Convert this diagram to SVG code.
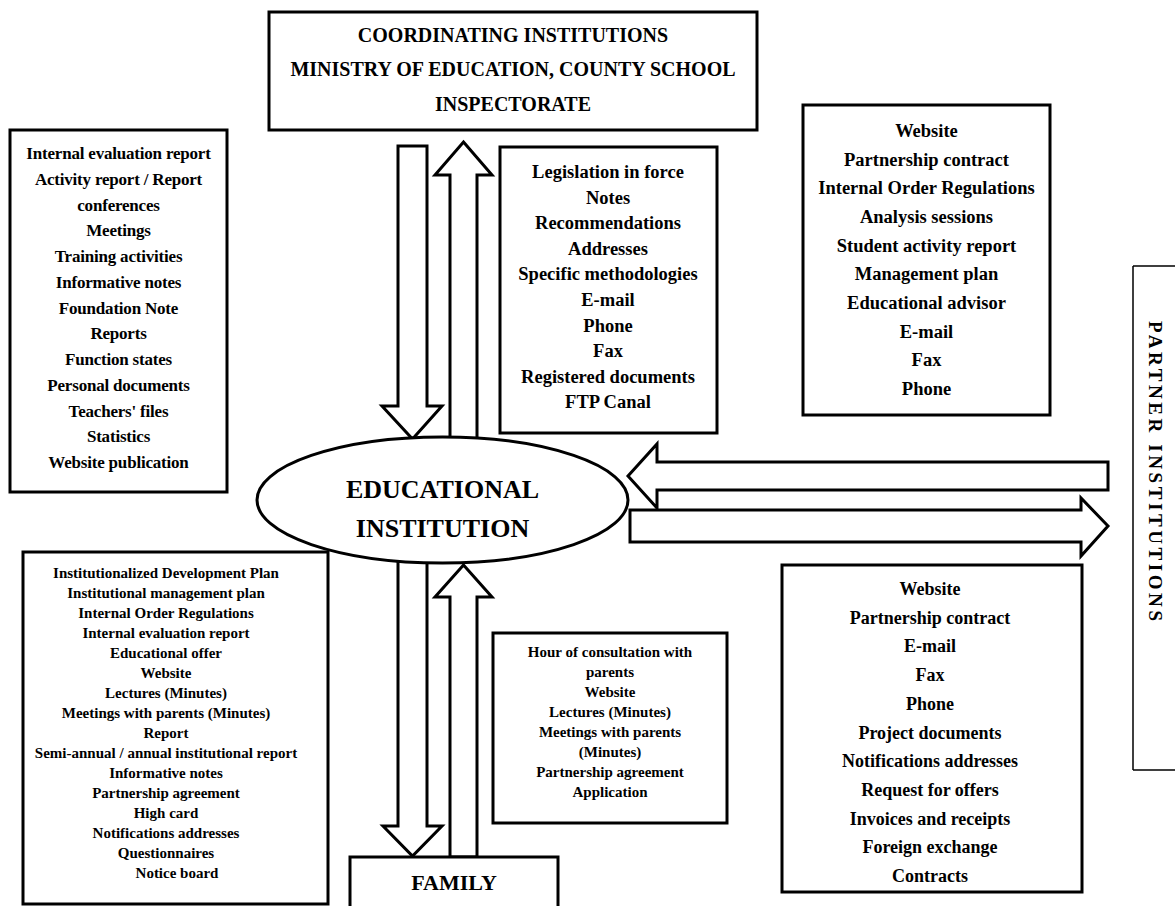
<svg xmlns="http://www.w3.org/2000/svg" width="1175" height="906" viewBox="0 0 1175 906" font-family="'Liberation Serif', 'Times New Roman', serif">
<style>
.box{fill:#fff;stroke:#000;stroke-width:3}
.arr{fill:#fff;stroke:#000;stroke-width:3;stroke-linejoin:miter}
text{font-family:'Liberation Serif','Times New Roman',serif;font-weight:bold;fill:#000;text-anchor:middle}
.t20{font-size:20px}
.t185{font-size:18.5px}
.t18{font-size:18px}
.t17{font-size:17px;letter-spacing:-0.2px}
.t15{font-size:15px}
.big{font-size:26px}
</style>
<rect width="1175" height="906" fill="#fff"/>
<g id="connectors">
<polygon class="arr" points="398,146 427,146 427,406 442,406 412.5,439 382,406 398,406"/>
<polygon class="arr" points="463.5,142 492,175 477,175 477,442 450,442 450,175 435,175"/>
<polygon class="arr" points="398,560 427,560 427,826 442,826 412.5,856 383,826 398,826"/>
<polygon class="arr" points="463.5,565 492,597 477,597 477,857 450,857 450,597 435,597"/>
<polygon class="arr" points="628,476 657,444 657,462 1108,462 1108,490 657,490 657,508"/>
<polygon class="arr" points="630,510 1081,510 1081,498 1108,526 1081,556 1081,542 630,542"/>
</g>
<g id="coordinating">
<rect class="box" x="269" y="12" width="488" height="118"/>
<text class="t20" x="513" y="42">COORDINATING INSTITUTIONS</text>
<text class="t20" x="513" y="76">MINISTRY OF EDUCATION, COUNTY SCHOOL</text>
<text class="t20" x="513" y="111">INSPECTORATE</text>
</g>
<g id="left-list">
<rect class="box" x="10" y="130" width="217" height="362"/>
<text class="t17" x="118.5" y="159">Internal evaluation report</text>
<text class="t17" x="118.5" y="184.75">Activity report / Report</text>
<text class="t17" x="118.5" y="210.5">conferences</text>
<text class="t17" x="118.5" y="236.25">Meetings</text>
<text class="t17" x="118.5" y="262">Training activities</text>
<text class="t17" x="118.5" y="287.75">Informative notes</text>
<text class="t17" x="118.5" y="313.5">Foundation Note</text>
<text class="t17" x="118.5" y="339.25">Reports</text>
<text class="t17" x="118.5" y="365">Function states</text>
<text class="t17" x="118.5" y="390.75">Personal documents</text>
<text class="t17" x="118.5" y="416.5">Teachers' files</text>
<text class="t17" x="118.5" y="442.25">Statistics</text>
<text class="t17" x="118.5" y="468">Website publication</text>
</g>
<g id="coord-channels">
<rect class="box" x="500" y="147" width="217" height="286"/>
<text class="t185" x="608" y="178">Legislation in force</text>
<text class="t185" x="608" y="203.6">Notes</text>
<text class="t185" x="608" y="229.2">Recommendations</text>
<text class="t185" x="608" y="254.8">Addresses</text>
<text class="t185" x="608" y="280.4">Specific methodologies</text>
<text class="t185" x="608" y="306">E-mail</text>
<text class="t185" x="608" y="331.6">Phone</text>
<text class="t185" x="608" y="357.2">Fax</text>
<text class="t185" x="608" y="382.8">Registered documents</text>
<text class="t185" x="608" y="408.4">FTP Canal</text>
</g>
<g id="partner-top-list">
<rect class="box" x="803" y="105" width="247" height="310"/>
<text class="t185" x="926.5" y="137">Website</text>
<text class="t185" x="926.5" y="165.7">Partnership contract</text>
<text class="t185" x="926.5" y="194.3">Internal Order Regulations</text>
<text class="t185" x="926.5" y="223">Analysis sessions</text>
<text class="t185" x="926.5" y="251.6">Student activity report</text>
<text class="t185" x="926.5" y="280.3">Management plan</text>
<text class="t185" x="926.5" y="309">Educational advisor</text>
<text class="t185" x="926.5" y="337.6">E-mail</text>
<text class="t185" x="926.5" y="366.2">Fax</text>
<text class="t185" x="926.5" y="395">Phone</text>
</g>
<g id="educational-institution">
<ellipse class="box" cx="442.5" cy="500" rx="185.5" ry="63"/>
<text class="big" x="442.5" y="498">EDUCATIONAL</text>
<text class="big" x="442.5" y="537">INSTITUTION</text>
</g>
<g id="partner-institutions">
<path d="M1133,266 H1175 M1133,266 V770 M1133,770 H1175" fill="none" stroke="#000" stroke-width="1.5"/>
<text transform="translate(1149,471) rotate(90)" x="0" y="0" style="font-size:19px" textLength="300" lengthAdjust="spacing">PARTNER INSTITUTIONS</text>
</g>
<g id="family-list">
<rect class="box" x="23" y="552" width="305" height="352"/>
<text class="t15" x="166" y="578">Institutionalized Development Plan</text>
<text class="t15" x="166" y="598">Institutional management plan</text>
<text class="t15" x="166" y="618">Internal Order Regulations</text>
<text class="t15" x="166" y="638">Internal evaluation report</text>
<text class="t15" x="166" y="658">Educational offer</text>
<text class="t15" x="166" y="678">Website</text>
<text class="t15" x="166" y="698">Lectures (Minutes)</text>
<text class="t15" x="166" y="718">Meetings with parents (Minutes)</text>
<text class="t15" x="166" y="738">Report</text>
<text class="t15" x="166" y="758">Semi-annual / annual institutional report</text>
<text class="t15" x="166" y="778">Informative notes</text>
<text class="t15" x="166" y="798">Partnership agreement</text>
<text class="t15" x="166" y="818">High card</text>
<text class="t15" x="166" y="838">Notifications addresses</text>
<text class="t15" x="166" y="858">Questionnaires</text>
<text class="t15" x="177" y="878">Notice board</text>
</g>
<g id="family-channels">
<rect class="box" x="493" y="633" width="234" height="190"/>
<text class="t15" x="610" y="657">Hour of consultation with</text>
<text class="t15" x="610" y="677">parents</text>
<text class="t15" x="610" y="697">Website</text>
<text class="t15" x="610" y="717">Lectures (Minutes)</text>
<text class="t15" x="610" y="737">Meetings with parents</text>
<text class="t15" x="610" y="757">(Minutes)</text>
<text class="t15" x="610" y="777">Partnership agreement</text>
<text class="t15" x="610" y="797">Application</text>
</g>
<g id="family">
<rect class="box" x="350" y="857" width="208" height="52"/>
<text x="454" y="890" style="font-size:22px">FAMILY</text>
</g>
<g id="partner-bottom-list">
<rect class="box" x="782" y="565" width="300" height="327"/>
<text class="t18" x="930" y="595">Website</text>
<text class="t18" x="930" y="623.7">Partnership contract</text>
<text class="t18" x="930" y="652.4">E-mail</text>
<text class="t18" x="930" y="681.1">Fax</text>
<text class="t18" x="930" y="709.8">Phone</text>
<text class="t18" x="930" y="738.5">Project documents</text>
<text class="t18" x="930" y="767.2">Notifications addresses</text>
<text class="t18" x="930" y="795.9">Request for offers</text>
<text class="t18" x="930" y="824.6">Invoices and receipts</text>
<text class="t18" x="930" y="853.3">Foreign exchange</text>
<text class="t18" x="930" y="882">Contracts</text>
</g>
</svg>
